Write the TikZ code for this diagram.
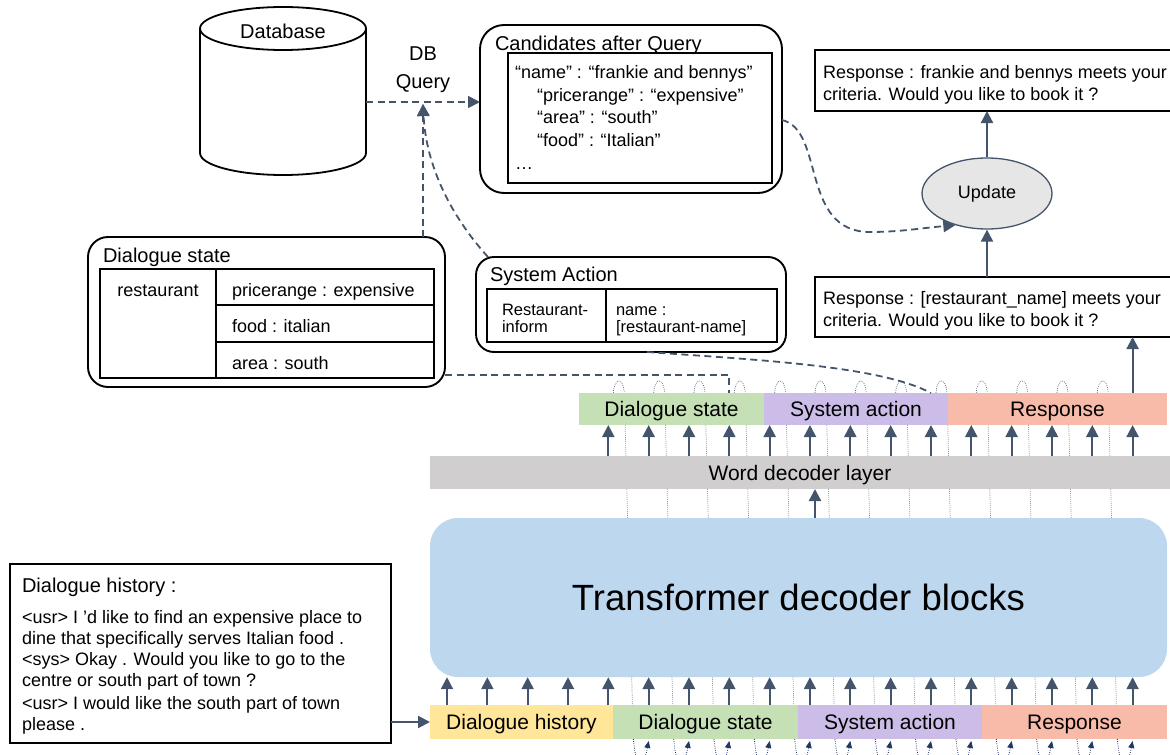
\documentclass[tikz,border=0pt]{standalone}
\usepackage{fontspec}
\setmainfont{Liberation Sans}
\usetikzlibrary{arrows.meta,shapes.geometric}
\definecolor{ac}{HTML}{44546A}
\definecolor{nv}{HTML}{203864}
\definecolor{cgreen}{HTML}{C5E0B4}
\definecolor{cpurp}{HTML}{CBBDE8}
\definecolor{csal}{HTML}{F8BBAA}
\definecolor{cyel}{HTML}{FFE699}
\definecolor{cgray}{HTML}{D0CECE}
\definecolor{cblue}{HTML}{BDD7EE}
\definecolor{cupd}{HTML}{E7E6E6}
\newcommand{\fntA}{\fontsize{18pt}{21.5pt}\selectfont}
\newcommand{\fntB}{\fontsize{20pt}{24pt}\selectfont}
\newcommand{\fntC}{\fontsize{21pt}{25pt}\selectfont}
\newcommand{\fntD}{\fontsize{36.5pt}{40pt}\selectfont}
\newcommand{\fntS}{\fontsize{16.5pt}{17pt}\selectfont}
\begin{document}
\begin{tikzpicture}[x=1pt,y=-1pt,
 bx/.style={draw=black, line width=1.5pt, inner sep=0pt, outer sep=0pt},
 rbx/.style={draw=black, line width=1.9pt, inner sep=0pt, outer sep=0pt},
 seg/.style={inner sep=0pt, outer sep=0pt, font=\fntC, text height=15pt, text depth=0pt},
 lbl/.style={inner sep=0pt, outer sep=0pt, anchor=base west},
 clbl/.style={inner sep=0pt, outer sep=0pt, anchor=base},
 sarrow/.style={draw=ac, line width=2.2pt, -{Triangle[length=12pt,width=12pt]}},
 dsh/.style={draw=ac, line width=1.8pt, dash pattern=on 7pt off 4.5pt},
 dsharrow/.style={dsh, -{Triangle[length=12pt,width=12pt]}},
 fbl/.style={draw=ac!85, line width=0.7pt, dash pattern=on 0.8pt off 1.2pt},
 fbn/.style={draw=nv, line width=0.8pt, dash pattern=on 0.8pt off 1.4pt, -{Triangle[length=7pt,width=6pt]}},
 ]
\useasboundingbox (0,0) rectangle (1170,755);

% column coordinates
\foreach \k in {0,...,17} {\coordinate (c\k) at ({447+40.33*\k},0);}
\coordinate (cm) at (815,0);

% feedback dotted paths (behind bars)
\foreach \k in {4,...,16} {
  \pgfmathsetmacro{\xa}{447+40.33*\k}
  \pgfmathsetmacro{\xb}{447+40.33*(\k+1)}
  \draw[fbl] (\xa+5,393) .. controls (\xa+6,377) and (\xa+15,377) .. (\xa+16,393) -- (\xa+25,739);
  \draw[fbn] (\xa+25,739) .. controls (\xa+29,776) and (\xb-6,772) .. (\xb,741);
}

% Database cylinder
\draw[line width=1.8pt] (200,28.5) -- (200,153) arc[start angle=180,end angle=360,x radius=83pt,y radius=22pt] -- (366,28.5);
\draw[line width=1.8pt] (283,28.5) ellipse[x radius=83pt, y radius=21.5pt];
\node[clbl,font=\fntB] (db) at (283,38) {Database};
\coordinate (dbr) at (366,102);
\node[clbl,font=\fntB] (qdb) at (423,60) {DB};
\node[clbl,font=\fntB] (qq) at (423,88) {Query};
\coordinate (qj) at (423,104);

% Candidates
\node[rbx, rounded corners=24pt, minimum width=302pt, minimum height=168pt] (cand) at (631,109) {};
\node[bx, minimum width=264pt, minimum height=130pt] (candin) at (640,118) {};
\node[lbl,font=\fntB] (candt) at (495,50) {Candidates after Query};
\node[lbl,font=\fntA] (cl1) at (515,78.5) {“name” : “frankie and bennys”};
\node[lbl,font=\fntA] (cl2) at (537,101.5) {“pricerange” : “expensive”};
\node[lbl,font=\fntA] (cl3) at (537,123.5) {“area” : “south”};
\node[lbl,font=\fntA] (cl4) at (537,146.5) {“food” : “Italian”};
\node[lbl,font=\fntA] (cl5) at (515,169) {…};

% Responses and update
\node[bx, minimum width=360pt, minimum height=61pt] (resp1) at (995,80.5) {};
\node[lbl,font=\fntA] (r1a) at (823,78) {Response : frankie and bennys meets your};
\node[lbl,font=\fntA] (r1b) at (823,100) {criteria. Would you like to book it ?};
\node[ellipse, draw=ac, line width=1.3pt, fill=cupd, minimum width=130pt, minimum height=71pt, inner sep=0pt, font=\fntA] (upd) at (987,193.5) {Update};
\node[bx, minimum width=360pt, minimum height=60pt] (resp2) at (995,307) {};
\node[lbl,font=\fntA] (r2a) at (823,304.5) {Response : [restaurant\_name] meets your};
\node[lbl,font=\fntA] (r2b) at (823,326.5) {criteria. Would you like to book it ?};

% Dialogue state box
\node[rbx, rounded corners=20pt, minimum width=357pt, minimum height=150pt] (ds) at (266.5,312) {};
\node[lbl,font=\fntB] (dst) at (103,262) {Dialogue state};
\node[bx, minimum width=116pt, minimum height=109pt] (dsl) at (158,323.5) {};
\node[bx, minimum width=218pt, minimum height=36pt] (dsr1) at (325,287) {};
\node[bx, minimum width=218pt, minimum height=37pt] (dsr2) at (325,323.5) {};
\node[bx, minimum width=218pt, minimum height=36pt] (dsr3) at (325,360) {};
\node[clbl,font=\fntA] (dsl1) at (158,296.5) {restaurant};
\node[lbl,font=\fntA] (dsa) at (232,296.5) {pricerange : expensive};
\node[lbl,font=\fntA] (dsb) at (232,332.5) {food : italian};
\node[lbl,font=\fntA] (dsc) at (232,369.5) {area : south};

% System action box
\node[rbx, rounded corners=18pt, minimum width=310pt, minimum height=95pt] (sa) at (631,304.5) {};
\node[lbl,font=\fntB] (sat) at (490,281) {System Action};
\node[bx, minimum width=119pt, minimum height=53pt] (sal) at (546.5,315.5) {};
\node[bx, minimum width=171pt, minimum height=53pt] (sar) at (691.5,315.5) {};
\node[lbl,font=\fntS] (sa1) at (502,315) {Restaurant-};
\node[lbl,font=\fntS] (sa2) at (502,332) {inform};
\node[lbl,font=\fntS] (sa3) at (616,315) {name :};
\node[lbl,font=\fntS] (sa4) at (616,332) {[restaurant-name]};

% Bars
\node[seg, fill=cgreen, minimum width=185pt, minimum height=32pt] (tds) at (671.5,409) {Dialogue state};
\node[seg, fill=cpurp, minimum width=184pt, minimum height=32pt] (tsa) at (856,409) {System action};
\node[seg, fill=csal, minimum width=219pt, minimum height=32pt] (trs) at (1057.5,409) {Response};
\node[seg, fill=cgray, minimum width=740pt, minimum height=33pt] (wd) at (800,472.5) {Word decoder layer};
\node[fill=cblue, rounded corners=28pt, minimum width=737pt, minimum height=159pt, inner sep=0pt, font=\fntD, text height=26pt, text depth=0pt] (tr) at (798.5,597.5) {Transformer decoder blocks};
\node[seg, fill=cyel, minimum width=183pt, minimum height=34pt] (bdh) at (521.5,722) {Dialogue history};
\node[seg, fill=cgreen, minimum width=185pt, minimum height=34pt] (bds) at (705.5,722) {Dialogue state};
\node[seg, fill=cpurp, minimum width=184pt, minimum height=34pt] (bsa) at (890,722) {System action};
\node[seg, fill=csal, minimum width=185pt, minimum height=34pt] (brs) at (1074.5,722) {Response};

% Dialogue history box
\node[bx, minimum width=381pt, minimum height=179pt] (dh) at (200.5,653.5) {};
\node[lbl,font=\fntB] (dh0) at (22,592) {Dialogue history :};
\node[lbl,font=\fntA] (dh1) at (22,623.5) {<usr> I ’d like to find an expensive place to};
\node[lbl,font=\fntA] (dh2) at (22,644) {dine that specifically serves Italian food .};
\node[lbl,font=\fntA] (dh3) at (22,665) {<sys> Okay . Would you like to go to the};
\node[lbl,font=\fntA] (dh4) at (22,686.5) {centre or south part of town ?};
\node[lbl,font=\fntA] (dh5) at (22,709.5) {<usr> I would like the south part of town};
\node[lbl,font=\fntA] (dh6) at (22,730.5) {please .};

% solid arrows
\foreach \k in {0,...,17} {\draw[sarrow] (c\k |- bdh.north) -- (c\k |- tr.south);}
\foreach \k in {4,...,17} {\draw[sarrow] (c\k |- wd.north) -- (c\k |- tds.south);}
\draw[sarrow] (cm |- tr.north) -- (cm |- wd.south);
\draw[sarrow] (dh.east |- bdh) -- (bdh.west);
\draw[sarrow] (c17 |- trs.north) -- (c17 |- resp2.south);
\draw[sarrow] (resp2.north -| upd) -- (upd.south);
\draw[sarrow] (upd.north) -- (upd.north |- resp1.south);

% dashed connectors
\draw[dsharrow] (dbr) -- (cand.west |- dbr);
\draw[dsharrow] (ds.north -| qj) -- (qj);
\draw[dsharrow] ([xshift=12pt]sa.north west) .. controls (450,215) and (426,165) .. (qj);
\draw[dsh] ([yshift=12pt]ds.south east) -| (c7 |- tds.north);
\draw[dsh] ([xshift=16pt]sa.south) .. controls (760,360) and (880,366) .. (c12 |- tsa.north);
\draw[dsharrow] ([yshift=-11pt]cand.east) .. controls (825,130) and (800,232) .. (870,232) .. controls (900,232) and (922,228) .. (upd.225);
\end{tikzpicture}
\end{document}
